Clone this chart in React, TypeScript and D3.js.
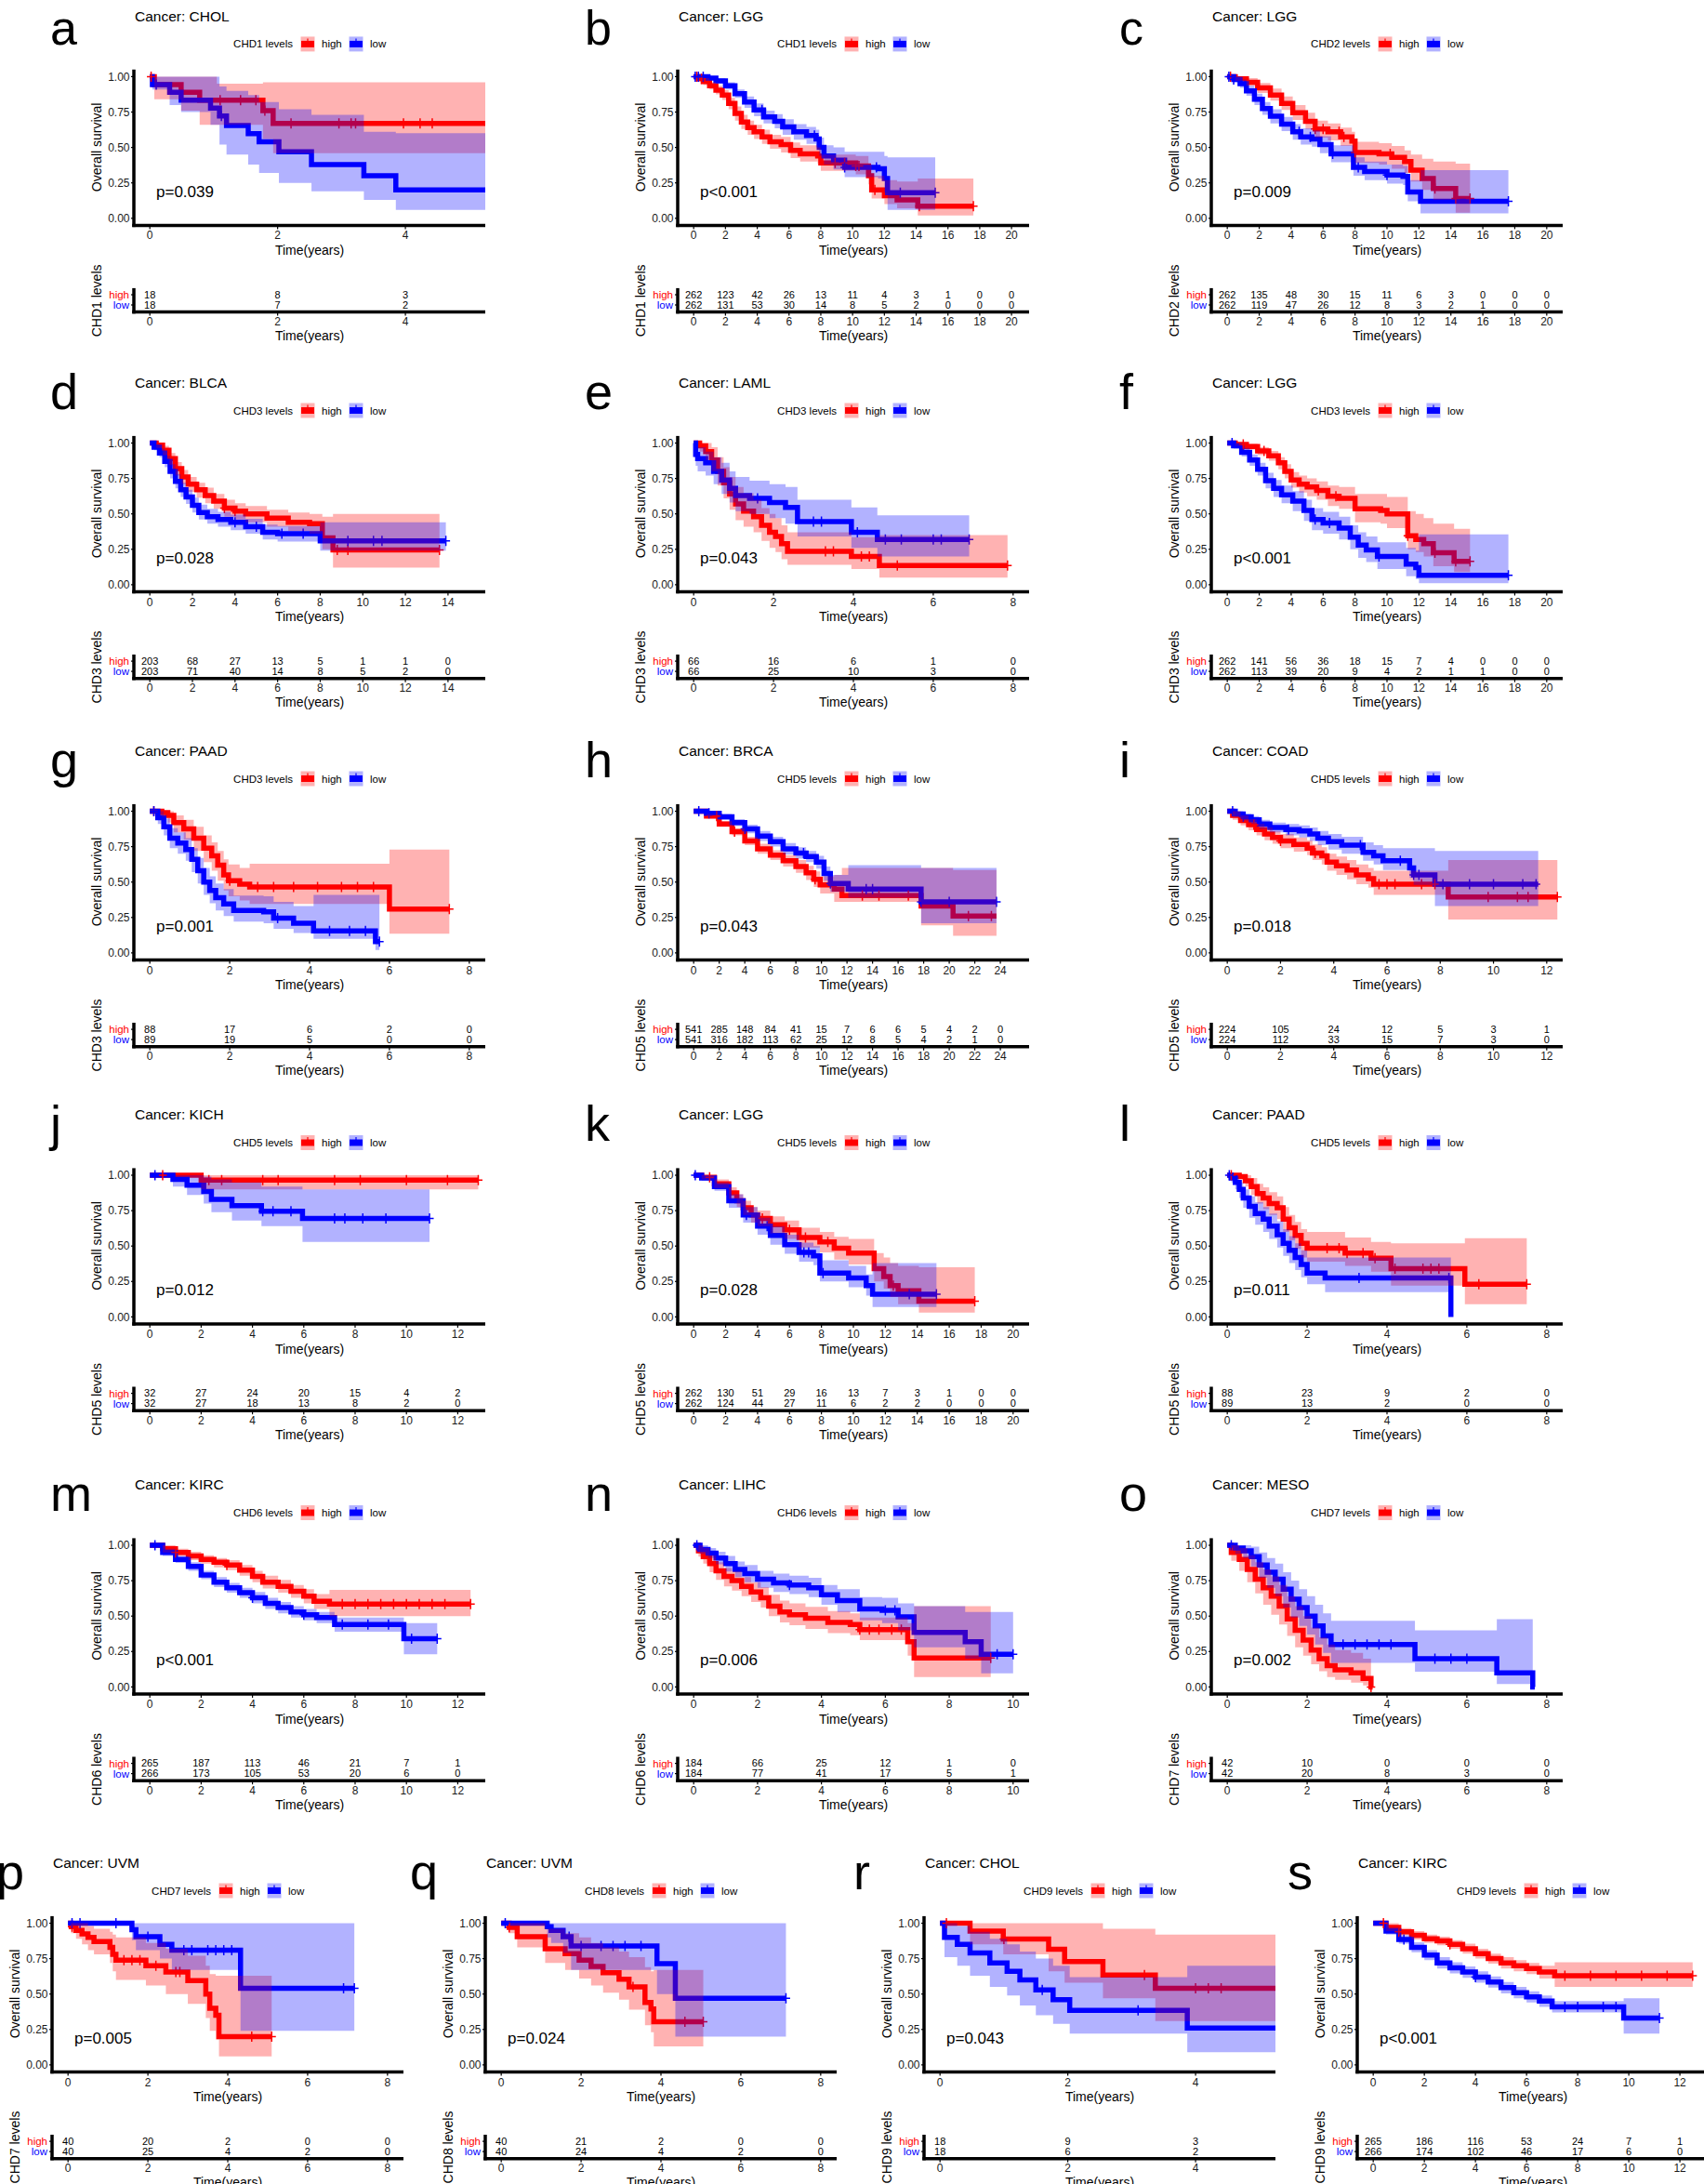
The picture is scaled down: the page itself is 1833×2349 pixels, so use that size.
import React from 'react';
import * as d3 from 'd3';

// ---------- panel meta ----------
const LETTERS = ['a','b','c','d','e','f','g','h','i','j','k','l','m','n','o','p','q','r','s'];
const CANCERS = ['CHOL','LGG','LGG','BLCA','LAML','LGG','PAAD','BRCA','COAD','KICH','LGG','PAAD','KIRC','LIHC','MESO','UVM','UVM','CHOL','KIRC'];
const GENES = ['CHD1','CHD1','CHD2','CHD3','CHD3','CHD3','CHD3','CHD5','CHD5','CHD5','CHD5','CHD5','CHD6','CHD6','CHD7','CHD7','CHD8','CHD9','CHD9'];
const PVALUES = ['p=0.039','p<0.001','p=0.009','p=0.028','p=0.043','p<0.001','p=0.001','p=0.043','p=0.018','p=0.012','p=0.028','p=0.011','p<0.001','p=0.006','p=0.002','p=0.005','p=0.024','p=0.043','p<0.001'];
const XMAX = [5, 20.1, 20, 15, 8, 20, 8, 25, 12, 12.45, 20, 8, 12.45, 10, 8, 8, 8, 5, 12.5];
const YTICKS = [0, 0.25, 0.5, 0.75, 1];

// ---------- risk tables (numbers at risk at each x tick) ----------
const RISK_HIGH = [
  [18,8,3],
  [262,123,42,26,13,11,4,3,1,0,0],
  [262,135,48,30,15,11,6,3,0,0,0],
  [203,68,27,13,5,1,1,0],
  [66,16,6,1,0],
  [262,141,56,36,18,15,7,4,0,0,0],
  [88,17,6,2,0],
  [541,285,148,84,41,15,7,6,6,5,4,2,0],
  [224,105,24,12,5,3,1],
  [32,27,24,20,15,4,2],
  [262,130,51,29,16,13,7,3,1,0,0],
  [88,23,9,2,0],
  [265,187,113,46,21,7,1],
  [184,66,25,12,1,0],
  [42,10,0,0,0],
  [40,20,2,0,0],
  [40,21,2,0,0],
  [18,9,3],
  [265,186,116,53,24,7,1],
];
const RISK_LOW = [
  [18,7,2],
  [262,131,53,30,14,8,5,2,0,0,0],
  [262,119,47,26,12,8,3,2,1,0,0],
  [203,71,40,14,8,5,2,0],
  [66,25,10,3,0],
  [262,113,39,20,9,4,2,1,1,0,0],
  [89,19,5,0,0],
  [541,316,182,113,62,25,12,8,5,4,2,1,0],
  [224,112,33,15,7,3,0],
  [32,27,18,13,8,2,0],
  [262,124,44,27,11,6,2,2,0,0,0],
  [89,13,2,0,0],
  [266,173,105,53,20,6,0],
  [184,77,41,17,5,1],
  [42,20,8,3,0],
  [40,25,4,2,0],
  [40,24,4,2,0],
  [18,6,2],
  [266,174,102,46,17,6,0],
];

// ---------- survival curves (step times, survival, CI low, CI high, last time, censor times) ----------
const aHigh = { t:[0,0.07,0.49,0.78,1.05,1.77,1.93], s:[1,.944,.889,.833,.833,.76,.67], lo:[1,.84,.76,.66,.66,.56,.46], hi:[1,1,1,1,.95,.96,.96], end:5.6, cens:[0.02,1.1,1.42,1.66,1.8,2.21,2.96,3.15,3.22,3.97,4.23,4.42] };
const aLow = { t:[0,0.04,0.31,0.49,0.95,1.09,1.2,1.54,1.71,2.02,2.53,3.35,3.85], s:[1,.944,.889,.833,.778,.722,.655,.598,.54,.47,.38,.3,.2], lo:[1,.91,.8,.75,.66,.52,.45,.38,.32,.25,.19,.13,.06], hi:[1,1,1,1,1,.93,.9,.87,.82,.77,.73,.61,.6], end:5.6, cens:[0.1,1.12] };
const bHigh = { t:[0,0.3,0.6,1.0,1.4,1.8,2.2,2.6,3.0,3.4,3.8,4.3,4.8,5.5,6.1,6.7,7.8,8.0,9.0,10.2,11.0,11.2,12.0,12.8,14.1], s:[1,.985,.965,.935,.905,.87,.81,.74,.68,.64,.61,.575,.54,.52,.48,.455,.44,.39,.39,.37,.3,.2,.16,.13,.085], lo:[1,.97,.94,.91,.875,.835,.77,.69,.63,.59,.56,.525,.49,.465,.425,.4,.385,.335,.335,.31,.24,.14,.1,.07,.02], hi:[1,1,.99,.96,.935,.905,.85,.79,.73,.69,.66,.625,.59,.575,.535,.515,.5,.45,.45,.44,.38,.3,.27,.26,.28], end:17.6, cens:[0.2,0.5,8.9,9.5,10.2,10.4,11.4,14.2,17.6] };
const bLow = { t:[0,0.9,1.4,2.0,2.6,3.2,3.8,4.4,5.1,5.6,6.3,7.1,7.7,7.9,8.2,8.8,9.5,11.6,12.0,12.2], s:[1,.99,.97,.935,.88,.82,.765,.715,.685,.645,.61,.585,.56,.5,.44,.41,.36,.35,.28,.18], lo:[1,.98,.95,.91,.85,.78,.72,.67,.635,.59,.555,.525,.5,.44,.38,.345,.29,.28,.18,.06], hi:[1,1,.99,.96,.91,.86,.81,.76,.735,.7,.665,.645,.625,.57,.515,.5,.47,.47,.44,.43], end:15.2, cens:[0.1,0.3,0.6,4.3,7.6,9.5,11.5,13.0,15.2] };
const cHigh = { t:[0,0.5,1.2,1.9,2.7,3.4,4.1,4.9,5.5,6.3,7.1,7.8,8.0,9.5,10.3,11.1,11.5,12.2,12.9,14.3], s:[1,.985,.96,.92,.87,.81,.745,.685,.63,.61,.575,.545,.465,.455,.43,.4,.34,.28,.21,.14], lo:[1,.97,.935,.885,.83,.765,.695,.63,.57,.55,.51,.475,.39,.38,.35,.32,.26,.2,.13,.04], hi:[1,1,.99,.955,.915,.86,.8,.745,.69,.67,.64,.61,.54,.53,.51,.48,.45,.42,.4,.385], end:15.2, cens:[0.2,5.5,6.0,7.0,7.3,8.0,10.2,13.0,14.3,15.2] };
const cLow = { t:[0,0.4,0.8,1.2,1.7,2.2,2.7,3.4,4.1,4.6,5.3,5.8,6.5,7.9,8.6,10.0,11.0,11.3,12.1], s:[1,.98,.95,.9,.84,.775,.72,.665,.61,.575,.56,.52,.455,.36,.33,.305,.295,.185,.12], lo:[1,.96,.92,.865,.8,.73,.67,.615,.555,.52,.505,.46,.395,.3,.27,.245,.235,.12,.035], hi:[1,1,.98,.935,.88,.82,.77,.715,.665,.635,.62,.58,.515,.43,.4,.38,.37,.27,.34], end:17.6, cens:[0.1,0.4,4.5,5.2,6.6,8.2,10.0,17.6] };
const dHigh = { t:[0,0.3,0.6,0.9,1.2,1.5,1.8,2.2,2.6,3.0,3.5,4.0,4.5,5.5,6.5,7.5,8.1,8.6], s:[1,.985,.95,.89,.82,.76,.71,.67,.63,.59,.54,.52,.5,.47,.44,.43,.33,.245], lo:[1,.965,.915,.845,.77,.71,.655,.615,.575,.535,.48,.46,.44,.41,.38,.36,.25,.12], hi:[1,1,.98,.93,.865,.81,.76,.72,.685,.64,.6,.575,.555,.53,.51,.5,.48,.5], end:13.6, cens:[3.5,4.0,8.8,9.3,13.6] };
const dLow = { t:[0,0.2,0.45,0.7,0.95,1.2,1.45,1.7,2.0,2.3,2.7,3.2,3.8,4.5,5.3,6.0,8.0], s:[1,.97,.93,.87,.8,.73,.67,.62,.56,.51,.48,.46,.44,.41,.37,.36,.31], lo:[1,.95,.9,.83,.75,.68,.62,.57,.51,.46,.43,.41,.385,.36,.32,.305,.24], hi:[1,.99,.96,.91,.85,.78,.72,.67,.615,.565,.535,.515,.495,.465,.425,.415,.44], end:13.9, cens:[4.0,5.0,6.2,7.2,9.3,10.5,10.9,13.9] };
const eHigh = { t:[0,0.15,0.3,0.45,0.6,0.75,0.9,1.05,1.25,1.5,1.7,1.9,2.05,2.2,2.35,3.95,4.65], s:[1,.98,.94,.88,.8,.72,.64,.57,.52,.48,.42,.37,.34,.29,.235,.2,.135], lo:[1,.94,.88,.8,.7,.61,.53,.455,.41,.37,.31,.26,.23,.18,.14,.11,.05], hi:[1,1,1,.97,.9,.83,.76,.69,.645,.6,.54,.5,.47,.42,.37,.335,.35], end:7.86, cens:[3.3,3.5,4.2,4.4,5.1,7.86] };
const eLow = { t:[0,0.05,0.1,0.3,0.5,0.7,0.9,1.05,1.4,1.9,2.3,2.6,3.95,4.6], s:[1,.92,.89,.86,.8,.74,.68,.63,.61,.58,.545,.445,.37,.32], lo:[1,.84,.8,.77,.71,.64,.58,.52,.5,.47,.43,.34,.26,.2], hi:[1,1,.97,.94,.9,.86,.8,.76,.735,.71,.69,.6,.545,.49], end:6.9, cens:[1.6,3.0,3.2,4.1,4.8,5.2,6.0,6.2,6.9] };
const fHigh = { t:[0,0.5,1.2,1.9,2.6,3.2,3.6,4.0,4.5,5.0,5.6,6.3,7.0,8.0,9.6,10.0,11.3,11.8,12.3,12.9,14.2], s:[1,.99,.975,.945,.91,.86,.8,.74,.71,.69,.665,.625,.61,.535,.525,.5,.345,.32,.29,.225,.165], lo:[1,.98,.955,.915,.875,.815,.75,.685,.65,.625,.6,.555,.535,.44,.43,.4,.25,.23,.2,.13,.09], hi:[1,1,.995,.97,.945,.9,.85,.795,.77,.75,.73,.7,.69,.64,.64,.62,.52,.5,.47,.43,.395], end:15.2, cens:[1.0,2.3,5.7,6.8,11.3,13.0,14.3,15.2] };
const fLow = { t:[0,0.4,0.9,1.4,1.9,2.4,2.9,3.4,4.1,4.8,5.3,6.0,7.0,7.7,8.2,8.7,9.4,11.2,11.8,12.0], s:[1,.98,.935,.88,.815,.735,.68,.635,.59,.525,.46,.435,.4,.335,.28,.245,.2,.145,.12,.067], lo:[1,.96,.905,.84,.77,.68,.62,.575,.52,.45,.385,.36,.32,.25,.19,.16,.11,.06,.04,.01], hi:[1,.995,.965,.92,.86,.79,.74,.7,.66,.6,.54,.515,.48,.42,.37,.34,.3,.26,.24,.356], end:17.6, cens:[0.3,5.5,6.4,9.5,17.6] };
const gHigh = { t:[0,0.3,0.45,0.6,0.85,1.1,1.35,1.55,1.7,1.85,1.97,2.25,2.5,6.0], s:[1,.99,.97,.92,.875,.81,.74,.685,.62,.55,.51,.485,.465,.31], lo:[1,.96,.92,.85,.8,.72,.64,.58,.51,.44,.4,.37,.345,.135], hi:[1,1,1,.97,.94,.89,.83,.78,.72,.66,.625,.6,.63,.73], end:7.5, cens:[0.1,2.0,2.7,3.1,3.6,4.2,4.8,5.2,5.6,7.5] };
const gLow = { t:[0,0.2,0.35,0.5,0.7,0.9,1.05,1.2,1.35,1.5,1.65,1.85,2.1,2.85,3.1,3.6,4.1,5.65], s:[1,.955,.89,.81,.775,.73,.66,.58,.5,.44,.39,.345,.3,.29,.245,.21,.155,.08], lo:[1,.91,.83,.74,.7,.65,.57,.49,.41,.35,.3,.26,.22,.21,.17,.14,.1,.02], hi:[1,1,.95,.88,.85,.81,.74,.67,.6,.54,.49,.45,.405,.4,.36,.33,.41,.41], end:5.75, cens:[0.1,3.2,4.5,5.0,5.4,5.75] };
const hHigh = { t:[0,1,2,3,4,5,6,7,8,8.8,9.4,9.9,11.0,11.6,17.8,20.3], s:[1,.965,.91,.855,.79,.735,.69,.65,.61,.565,.52,.48,.45,.405,.33,.26], lo:[1,.95,.89,.83,.76,.7,.655,.61,.565,.515,.465,.42,.36,.36,.195,.12], hi:[1,.98,.93,.88,.82,.77,.725,.69,.655,.615,.575,.54,.55,.6,.6,.585], end:23.7, cens:[1.8,3.2,9.5,13.2,14.5,16.8,21.5,23.3] };
const hLow = { t:[0,1,2,3,4,5,6,7,8,8.8,9.6,10.2,10.7,12.1,17.8], s:[1,.985,.96,.92,.875,.825,.785,.735,.705,.68,.64,.56,.49,.45,.36], lo:[1,.97,.94,.895,.845,.79,.75,.695,.665,.64,.595,.51,.43,.39,.21], hi:[1,1,.98,.945,.905,.86,.82,.775,.745,.72,.685,.61,.55,.62,.6], end:23.7, cens:[0.4,1.2,4.0,8.6,10.7,13.5,14.0,17.8,20.0,23.7] };
const iHigh = { t:[0,0.2,0.5,0.8,1.1,1.4,1.7,2.0,2.5,3.0,3.2,3.55,3.75,4.1,4.5,4.85,5.3,5.5,8.3], s:[1,.97,.935,.905,.87,.84,.815,.79,.765,.74,.705,.685,.64,.615,.585,.55,.525,.485,.395], lo:[1,.94,.9,.865,.83,.795,.77,.74,.715,.69,.655,.625,.58,.55,.52,.485,.46,.41,.235], hi:[1,1,.97,.945,.91,.885,.86,.84,.815,.795,.765,.745,.7,.68,.655,.625,.6,.58,.655], end:12.4, cens:[1.0,2.0,3.3,5.7,6.0,6.3,7.3,7.8,9.8,10.9,11.3,12.4] };
const iLow = { t:[0,0.3,0.6,0.9,1.2,1.6,2.2,2.7,3.1,3.4,3.8,4.3,5.1,5.5,5.85,6.85,7.0,7.8], s:[1,.98,.96,.94,.91,.885,.87,.86,.84,.81,.785,.76,.71,.685,.65,.6,.55,.485], lo:[1,.96,.935,.91,.875,.85,.83,.815,.79,.76,.73,.7,.65,.625,.585,.53,.48,.33], hi:[1,1,.98,.965,.94,.92,.91,.9,.885,.86,.84,.82,.78,.76,.74,.74,.74,.72], end:11.68, cens:[0.2,0.6,2.3,5.0,6.5,7.0,7.2,8.1,9.1,10.0,11.1,11.6] };
const jHigh = { t:[0,2.0], s:[1,.966], lo:[1,.9], hi:[1,1], end:12.8, cens:[0.5,2.3,2.8,4.4,5.0,7.2,8.2,10.0,11.6,12.8] };
const jLow = { t:[0,0.9,1.45,2.1,2.4,3.2,4.35,5.95], s:[1,.97,.93,.885,.83,.785,.745,.695], lo:[1,.92,.86,.8,.74,.68,.64,.53], hi:[1,1,1,.99,.97,.95,.92,.9], end:10.9, cens:[0.2,4.4,4.8,5.5,7.2,7.6,8.3,9.2,10.9] };
const kHigh = { t:[0,0.5,1.3,2.2,2.7,3.1,3.6,4.0,4.8,5.7,6.6,7.9,8.8,9.7,11.3,11.9,12.3,12.8,14.1], s:[1,.985,.94,.875,.82,.77,.72,.695,.65,.615,.56,.53,.485,.45,.34,.285,.22,.185,.11], lo:[1,.97,.91,.835,.775,.72,.665,.64,.59,.55,.49,.455,.405,.37,.25,.2,.14,.09,.03], hi:[1,1,.97,.915,.865,.82,.775,.75,.71,.68,.63,.6,.565,.55,.45,.42,.38,.36,.35], end:17.6, cens:[1.0,4.3,6.0,7.0,8.4,12.5,17.6] };
const kLow = { t:[0,0.5,1.3,2.2,3.1,4.0,4.8,5.7,6.6,7.5,7.9,9.7,10.8,11.2], s:[1,.98,.92,.82,.72,.64,.575,.51,.455,.43,.31,.275,.22,.16], lo:[1,.96,.89,.77,.665,.58,.51,.445,.39,.365,.25,.21,.15,.07], hi:[1,.995,.95,.865,.775,.7,.64,.58,.525,.5,.4,.36,.3,.38], end:15.2, cens:[0.1,3.3,4.6,6.9,7.2,8.1,13.5,15.2] };
const lHigh = { t:[0,0.3,0.45,0.6,0.75,0.9,1.05,1.25,1.4,1.55,1.7,1.85,2.0,2.95,3.6,4.1,5.95], s:[1,.99,.96,.92,.87,.84,.8,.77,.69,.63,.575,.52,.485,.45,.415,.34,.23], lo:[1,.98,.92,.86,.8,.76,.72,.69,.6,.54,.48,.42,.39,.36,.32,.22,.09], hi:[1,1,1,.98,.94,.915,.88,.85,.775,.72,.67,.62,.6,.56,.53,.52,.555], end:7.5, cens:[0.1,2.5,2.8,3.0,3.4,3.7,4.2,4.9,5.1,5.3,6.3,7.5] };
const lLow = { t:[0,0.1,0.2,0.3,0.4,0.55,0.7,0.9,1.05,1.25,1.4,1.55,1.7,1.85,2.0,2.45,5.6], s:[1,.98,.95,.9,.84,.78,.73,.69,.64,.58,.52,.47,.42,.37,.31,.275,0], lo:[1,.95,.9,.84,.77,.7,.65,.6,.55,.49,.43,.38,.33,.28,.23,.175,0], hi:[1,1,.99,.95,.9,.85,.81,.775,.73,.675,.62,.57,.52,.47,.42,.42,0], end:5.6, cens:[0.05,3.3,5.55] };
const mHigh = { t:[0,0.5,1.0,1.5,2.0,2.5,3.0,3.5,4.0,4.4,5.0,5.5,6.0,6.4,7.0], s:[1,.975,.95,.925,.9,.88,.86,.825,.78,.74,.71,.675,.64,.605,.585], lo:[1,.95,.925,.895,.87,.845,.825,.785,.74,.695,.665,.63,.59,.55,.5], hi:[1,1,.975,.955,.93,.91,.895,.86,.82,.785,.755,.72,.69,.655,.685], end:12.5, cens:[1.0,3.0,7.5,8.0,8.5,9.0,9.5,10.0,10.5,11.0,11.5,12.5] };
const mLow = { t:[0,0.5,1.0,1.5,2.0,2.5,3.0,3.5,4.0,4.5,5.0,5.5,6.0,6.5,7.2,9.9], s:[1,.95,.9,.85,.79,.74,.7,.665,.63,.59,.56,.53,.51,.49,.44,.34], lo:[1,.925,.875,.82,.76,.705,.665,.63,.59,.55,.52,.49,.47,.45,.39,.23], hi:[1,.975,.925,.88,.82,.775,.735,.7,.67,.63,.6,.57,.55,.53,.49,.45], end:11.2, cens:[0.2,4.0,6.0,7.5,8.5,9.3,10.2,11.2] };
const nHigh = { t:[0,0.15,0.3,0.5,0.7,0.95,1.2,1.5,1.8,2.1,2.35,2.7,3.0,3.5,4.2,4.9,5.2,6.7,6.9], s:[1,.96,.92,.87,.82,.78,.75,.71,.67,.63,.57,.53,.51,.485,.455,.44,.405,.32,.205], lo:[1,.92,.87,.81,.755,.71,.68,.64,.6,.56,.5,.455,.435,.41,.38,.365,.33,.22,.07], hi:[1,1,.98,.93,.88,.84,.815,.775,.74,.705,.65,.61,.59,.565,.535,.52,.49,.45,.57], end:9.3, cens:[5.2,5.5,5.8,6.2,6.5,9.3] };
const nLow = { t:[0,0.2,0.45,0.7,1.0,1.3,1.6,2.0,2.5,3.0,3.6,4.0,4.5,5.2,5.9,6.4,6.9,8.5,9.0], s:[1,.97,.945,.91,.87,.83,.8,.76,.735,.72,.7,.65,.61,.55,.54,.495,.385,.32,.23], lo:[1,.94,.91,.865,.815,.775,.74,.7,.67,.655,.635,.58,.53,.47,.45,.4,.28,.2,.096], hi:[1,1,.98,.955,.925,.885,.86,.82,.8,.785,.77,.72,.69,.635,.63,.59,.57,.53,.53], end:10, cens:[0.1,3.0,6.0,6.3,9.5,10.0] };
const oHigh = { t:[0,0.1,0.3,0.5,0.7,0.9,1.1,1.3,1.5,1.7,1.9,2.1,2.3,2.5,2.7,3.1,3.4,3.6], s:[1,.95,.9,.83,.76,.7,.64,.57,.48,.4,.33,.26,.2,.15,.12,.1,.06,0], lo:[1,.89,.82,.74,.66,.58,.51,.44,.36,.28,.22,.16,.11,.07,.05,.03,.01,0], hi:[1,1,.98,.93,.88,.83,.78,.72,.64,.57,.5,.42,.35,.3,.26,.24,.2,0], end:3.64, cens:[3.6] };
const oLow = { t:[0,0.2,0.4,0.6,0.8,1.0,1.2,1.4,1.6,1.8,2.0,2.2,2.4,2.6,4.7,6.75,7.65], s:[1,.98,.96,.92,.86,.81,.76,.69,.62,.56,.5,.43,.36,.3,.2,.1,0], lo:[1,.94,.91,.85,.77,.7,.64,.56,.49,.43,.37,.3,.24,.17,.107,.02,0], hi:[1,1,1,.99,.95,.91,.87,.81,.75,.69,.64,.58,.52,.467,.4,.478,0], end:7.7, cens:[0.1,2.9,3.2,3.5,3.8,4.1,5.2,5.6,6.0] };
const pHigh = { t:[0,0.08,0.2,0.35,0.5,0.65,1.05,1.12,1.2,1.95,2.45,3.0,3.45,3.55,3.7,3.78], s:[1,.975,.95,.925,.9,.87,.83,.78,.74,.7,.655,.595,.5,.4,.35,.2], lo:[1,.93,.89,.85,.81,.78,.72,.66,.6,.56,.5,.43,.33,.24,.18,.06], hi:[1,1,1,1,.98,.96,.94,.92,.9,.86,.82,.77,.7,.64,.63,.63], end:5.1, cens:[0.1,1.4,1.6,1.8,2.2,2.7,2.8,4.6,5.1] };
const pLow = { t:[0,1.6,1.7,2.3,2.6,4.32], s:[1,.955,.905,.85,.81,.54], lo:[1,.88,.81,.75,.67,.24], hi:[1,1,1,1,1,1], end:7.17, cens:[0.1,0.3,1.2,2.0,2.9,3.1,3.5,3.7,3.9,4.1,6.9,7.17] };
const qHigh = { t:[0,0.2,0.4,1.1,1.6,1.95,2.25,2.55,2.95,3.2,3.6,3.75,3.82], s:[1,.97,.905,.82,.785,.74,.695,.65,.605,.55,.44,.395,.305], lo:[1,.93,.83,.72,.67,.61,.56,.51,.46,.39,.28,.23,.13], hi:[1,1,1,.96,.93,.9,.86,.83,.8,.76,.69,.66,.67], end:5.06, cens:[0.2,3.3,4.6,5.06] };
const qLow = { t:[0,1.15,1.25,1.55,1.75,3.9,4.36], s:[1,.975,.95,.905,.84,.715,.47], lo:[1,.9,.86,.79,.67,.5,.2], hi:[1,1,1,1,1,1,1], end:7.13, cens:[0.1,1.7,2.0,2.5,2.8,3.1,3.5,7.13] };
const rHigh = { t:[0,0.47,0.99,1.7,1.95,2.55,3.37], s:[1,.944,.889,.817,.73,.635,.54], lo:[1,.85,.78,.66,.58,.47,.31], hi:[1,1,1,1,1,.96,.92], end:5.6, cens:[0.1,1.0,3.2,4.0,4.2,4.4] };
const rLow = { t:[0,0.07,0.27,0.47,0.78,1.05,1.25,1.5,1.77,2.03,3.87], s:[1,.9,.85,.79,.72,.66,.6,.53,.46,.385,.26], lo:[1,.76,.7,.63,.55,.49,.42,.35,.29,.22,.09], hi:[1,1,.98,.94,.89,.85,.8,.75,.7,.62,.7], end:5.6, cens:[1.6,3.1] };
const sHigh = { t:[0,0.5,1.0,1.5,2.0,2.5,3.0,3.5,4.0,4.5,5.0,5.5,6.0,6.5,7.1], s:[1,.97,.94,.915,.89,.875,.85,.82,.785,.75,.72,.7,.68,.655,.63], lo:[1,.945,.915,.885,.86,.845,.82,.785,.75,.715,.68,.66,.64,.61,.55], hi:[1,1,.965,.945,.92,.905,.88,.855,.82,.785,.76,.74,.72,.7,.725], end:12.5, cens:[0.4,1.0,3.0,7.5,8.5,9.5,10.5,11.5,12.5] };
const sLow = { t:[0,0.5,1.0,1.5,2.0,2.5,3.0,3.5,4.0,4.5,5.0,5.5,6.0,6.5,7.0,9.8], s:[1,.945,.885,.83,.775,.72,.685,.655,.62,.585,.545,.51,.48,.45,.41,.33], lo:[1,.92,.855,.795,.74,.68,.645,.615,.58,.545,.505,.47,.44,.41,.37,.22], hi:[1,.97,.915,.865,.81,.76,.725,.695,.66,.625,.585,.55,.52,.49,.45,.47], end:11.2, cens:[1.2,4.0,7.5,8.0,9.0,9.5,11.2] };

const HIGH_GROUPS = [aHigh,bHigh,cHigh,dHigh,eHigh,fHigh,gHigh,hHigh,iHigh,jHigh,kHigh,lHigh,mHigh,nHigh,oHigh,pHigh,qHigh,rHigh,sHigh];
const LOW_GROUPS = [aLow,bLow,cLow,dLow,eLow,fLow,gLow,hLow,iLow,jLow,kLow,lLow,mLow,nLow,oLow,pLow,qLow,rLow,sLow];

// ---------- layout ----------
const FONT = '"Liberation Sans", Arial, Helvetica, sans-serif';
const RED = '#FF0000';
const BLUE = '#0000FF';
const PW = 378;
const ROW_Y0 = [82.4, 476.5, 872.5, 1264, 1662, 2068.5];
const COL_AL_3 = [144, 729, 1303];
const COL_AL_4 = [56, 522, 994, 1460];
const LETTER_X_3 = [54, 629, 1204];
const LETTER_X_4 = [-4, 441, 918, 1385];

type Group = { t: number[]; s: number[]; lo: number[]; hi: number[]; end: number; cens: number[] };

function survAt(g: Group, c: number) {
  let v = g.s[0];
  for (let i = 0; i < g.t.length; i++) if (g.t[i] <= c) v = g.s[i];
  return v;
}

function Panel({ idx }: { idx: number }) {
  const row = idx < 15 ? Math.floor(idx / 3) : 5;
  const col = idx < 15 ? idx % 3 : idx - 15;
  const AL = idx < 15 ? COL_AL_3[col] : COL_AL_4[col];
  const LX = idx < 15 ? LETTER_X_3[col] : LETTER_X_4[col];
  const Y0 = ROW_Y0[row];
  const D = XMAX[idx];
  const AR = AL + PW;
  const x = d3.scaleLinear().domain([-0.05 * D, 1.05 * D]).range([AL, AR]);
  const y = d3.scaleLinear().domain([-0.05, 1.05]).range([Y0 + 160, Y0 + 160 - 167.6]);
  const xticks = d3.range(0, D + 1e-9, 2);
  const groups: [Group, string][] = [[HIGH_GROUPS[idx], RED], [LOW_GROUPS[idx], BLUE]];

  const line = d3.line<[number, number]>().x(d => x(d[0])).y(d => y(d[1])).curve(d3.curveStepAfter);
  const area = d3.area<[number, number, number]>().x(d => x(d[0])).y0(d => y(d[1])).y1(d => y(d[2])).curve(d3.curveStepAfter);

  const linePath = (g: Group) => {
    const pts: [number, number][] = g.t.map((t, i) => [t, g.s[i]] as [number, number]);
    pts.push([g.end, g.s[g.s.length - 1]]);
    return line(pts) || '';
  };
  const bandPath = (g: Group) => {
    const pts: [number, number, number][] = g.t.map((t, i) => [t, g.lo[i], g.hi[i]] as [number, number, number]);
    pts.push([g.end, g.lo[g.lo.length - 1], g.hi[g.hi.length - 1]]);
    return area(pts) || '';
  };

  const clipId = `clip-${idx}`;
  const yBottom = Y0 + 160;
  const yTop = Y0 - 7.6;
  const cx = AL + PW / 2;
  const ly = Y0 - 35;
  const riskH = Y0 + 234.6;
  const riskL = Y0 + 245.6;
  const riskAxis = Y0 + 253.2;
  const pY = y(0.19);
  const letterY = row === 0 ? 48 : Y0 - 37;
  const letterSize = row === 0 ? 52 : 54;

  return (
    <g>
      <defs>
        <clipPath id={clipId}>
          <rect x={AL + 1.8} y={yTop} width={PW - 1.8} height={yBottom - yTop - 1.8} />
        </clipPath>
      </defs>
      {/* panel letter */}
      <text x={LX} y={letterY} fontSize={letterSize} fontFamily={FONT} fill="#000">{LETTERS[idx]}</text>
      {/* title */}
      <text x={AL + 1} y={Y0 - 65} dy="0.35em" fontSize={15.5} fontFamily={FONT} fill="#000">{`Cancer: ${CANCERS[idx]}`}</text>
      {/* legend */}
      <g fontFamily={FONT} fontSize={11.5}>
        <text x={cx - 18} y={ly} dy="0.35em" textAnchor="end" fill="#000">{`${GENES[idx]} levels`}</text>
        <rect x={cx - 9.5} y={ly - 8} width={15} height={16} fill={RED} fillOpacity={0.3} />
        <rect x={cx - 9} y={ly - 3.5} width={14} height={7} fill={RED} />
        <line x1={cx - 2} x2={cx - 2} y1={ly - 6} y2={ly - 3} stroke={RED} strokeWidth={1.2} />
        <text x={cx + 13} y={ly} dy="0.35em" fill="#000">high</text>
        <rect x={cx + 42.5} y={ly - 8} width={15} height={16} fill={BLUE} fillOpacity={0.3} />
        <rect x={cx + 43} y={ly - 3.5} width={14} height={7} fill={BLUE} />
        <line x1={cx + 50} x2={cx + 50} y1={ly - 6} y2={ly - 3} stroke={BLUE} strokeWidth={1.2} />
        <text x={cx + 65} y={ly} dy="0.35em" fill="#000">low</text>
      </g>
      {/* curves, censor marks, then bands on top */}
      <g clipPath={`url(#${clipId})`}>
        {groups.map(([g, c], k) => (
          <path key={`l${k}`} d={linePath(g)} fill="none" stroke={c} strokeWidth={5.5} strokeLinejoin="miter" />
        ))}
        {groups.map(([g, c], k) => (
          <g key={`c${k}`} stroke={c} strokeWidth={1.5}>
            {g.cens.map((t, j) => {
              const px = x(t), py = y(survAt(g, t));
              return <path key={j} d={`M${px - 4.5},${py}H${px + 4.5}M${px},${py - 5.5}V${py + 5.5}`} />;
            })}
          </g>
        ))}
        {groups.map(([g, c], k) => (
          <path key={`b${k}`} d={bandPath(g)} fill={c} fillOpacity={0.3} stroke="none" />
        ))}
      </g>
      {/* p value */}
      <text x={AL + 24} y={pY} dy="0.35em" fontSize={17} fontFamily={FONT} fill="#000">{PVALUES[idx]}</text>
      {/* y axis */}
      <line x1={AL} x2={AL} y1={yTop} y2={yBottom + 1.75} stroke="#000" strokeWidth={3.5} />
      {YTICKS.map(v => (
        <g key={v}>
          <line x1={AL - 3} x2={AL} y1={y(v)} y2={y(v)} stroke="#000" strokeWidth={1.2} />
          <text x={AL - 4.5} y={y(v)} dy="0.35em" textAnchor="end" fontSize={12} fontFamily={FONT} fill="#1a1a1a">{d3.format('.2f')(v)}</text>
        </g>
      ))}
      <text transform={`translate(${AL - 40},${Y0 + 76}) rotate(-90)`} textAnchor="middle" dy="0.35em" fontSize={14} fontFamily={FONT} fill="#000">Overall survival</text>
      {/* x axis */}
      <line x1={AL - 1.75} x2={AR} y1={yBottom} y2={yBottom} stroke="#000" strokeWidth={3.5} />
      {xticks.map(v => (
        <g key={v}>
          <line x1={x(v)} x2={x(v)} y1={yBottom} y2={yBottom + 4} stroke="#000" strokeWidth={1.2} />
          <text x={x(v)} y={Y0 + 170.8} dy="0.35em" textAnchor="middle" fontSize={12} fontFamily={FONT} fill="#1a1a1a">{v}</text>
        </g>
      ))}
      <text x={cx} y={Y0 + 186.6} dy="0.35em" textAnchor="middle" fontSize={14} fontFamily={FONT} fill="#000">Time(years)</text>
      {/* risk table */}
      <g fontFamily={FONT}>
        {xticks.map((v, j) => (
          <g key={v} fontSize={11} textAnchor="middle" fill="#000">
            <text x={x(v)} y={riskH} dy="0.35em">{RISK_HIGH[idx][j]}</text>
            <text x={x(v)} y={riskL} dy="0.35em">{RISK_LOW[idx][j]}</text>
          </g>
        ))}
        <line x1={AL} x2={AL} y1={Y0 + 227.5} y2={riskAxis + 1.75} stroke="#000" strokeWidth={3.5} />
        <line x1={AL - 3} x2={AL} y1={riskH} y2={riskH} stroke="#000" strokeWidth={1.2} />
        <line x1={AL - 3} x2={AL} y1={riskL} y2={riskL} stroke="#000" strokeWidth={1.2} />
        <text x={AL - 5} y={riskH} dy="0.35em" textAnchor="end" fontSize={11.5} fill={RED}>high</text>
        <text x={AL - 5} y={riskL} dy="0.35em" textAnchor="end" fontSize={11.5} fill={BLUE}>low</text>
        <line x1={AL - 1.75} x2={AR} y1={riskAxis} y2={riskAxis} stroke="#000" strokeWidth={3.5} />
        {xticks.map(v => (
          <g key={v}>
            <line x1={x(v)} x2={x(v)} y1={riskAxis} y2={riskAxis + 4} stroke="#000" strokeWidth={1.2} />
            <text x={x(v)} y={Y0 + 263.4} dy="0.35em" textAnchor="middle" fontSize={12} fill="#1a1a1a">{v}</text>
          </g>
        ))}
        <text x={cx} y={Y0 + 278.6} dy="0.35em" textAnchor="middle" fontSize={14} fill="#000">Time(years)</text>
        <text transform={`translate(${AL - 40},${Y0 + 241}) rotate(-90)`} textAnchor="middle" dy="0.35em" fontSize={14} fill="#000">{`${GENES[idx]} levels`}</text>
      </g>
    </g>
  );
}

export default function App() {
  return (
    <svg width={1833} height={2349} viewBox="0 0 1833 2349" style={{ position: 'absolute', left: 0, top: 0, background: '#fff' }}>
      <rect x={0} y={0} width={1833} height={2349} fill="#fff" />
      {LETTERS.map((_, i) => <Panel key={i} idx={i} />)}
    </svg>
  );
}
